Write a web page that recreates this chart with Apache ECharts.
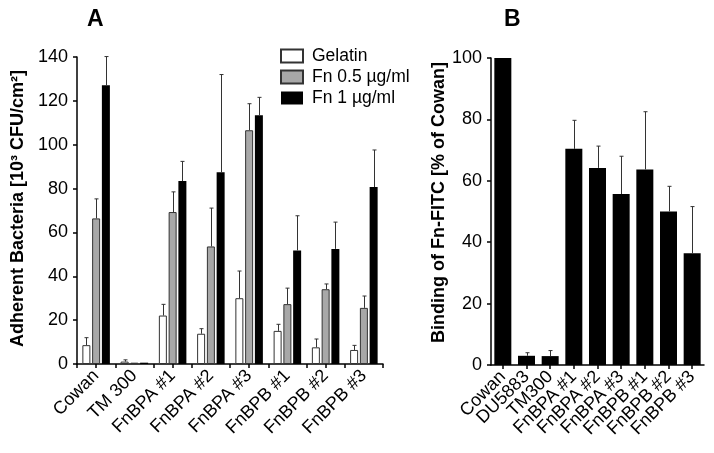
<!DOCTYPE html>
<html>
<head>
<meta charset="utf-8">
<script src="https://cdn.jsdelivr.net/npm/echarts@6/dist/echarts.min.js"></script>
<style>
  html, body { margin: 0; padding: 0; background: #fff; }
  #main { width: 714px; height: 453px; }
</style>
</head>
<body>
<div id="main"></div>
<script>
// panel A: adherent bacteria (10^3 CFU/cm2), upper error = SD
const catsA = ["Cowan", "TM 300", "FnBPA #1", "FnBPA #2", "FnBPA #3", "FnBPB #1", "FnBPB #2", "FnBPB #3"];
const gelatin = [8.6, 1.1, 22.1, 13.8, 30.0, 15.1, 7.6, 6.4];
const gelatinSd = [3.4, 0.8, 5.1, 2.3, 12.4, 3.0, 3.8, 2.1];
const fn05 = [66.4, 0.6, 69.3, 53.6, 106.6, 27.3, 34.1, 25.6];
const fn05Sd = [8.9, 0, 9.2, 17.5, 12.1, 7.3, 2.4, 5.4];
const fn1 = [127.1, 0.6, 83.4, 87.4, 113.4, 51.8, 52.5, 80.7];
const fn1Sd = [13.1, 0, 9.0, 44.6, 8.2, 15.8, 12.2, 16.9];

// panel B: binding of Fn-FITC (% of Cowan)
const catsB = ["Cowan", "DU5883", "TM300", "FnBPA #1", "FnBPA #2", "FnBPA #3", "FnBPB #1", "FnBPB #2", "FnBPB #3"];
const binding = [100, 3.0, 2.9, 70.4, 64.2, 55.7, 63.7, 50.0, 36.4];
const bindingSd = [0, 1.0, 1.8, 9.3, 7.1, 12.3, 18.8, 8.2, 15.2];

const FONT = "Liberation Sans, Arial, sans-serif";
const barW = 8;
const step = 9.8; // bar width + gap in panel A

// error bar (upper half only) drawn on top of a bar, shifted by dx
const errBar = (dx) => (params, api) => {
  const sd = api.value(2);
  if (!sd) return null;
  const i = api.value(0);
  const p0 = api.coord([i, api.value(1)]);
  const p1 = api.coord([i, api.value(1) + sd]);
  const x = Math.round(p0[0] + dx) + 0.5;
  const st = { stroke: "#333", lineWidth: 1 };
  return {
    type: "group",
    children: [
      { type: "line", shape: { x1: x, y1: p0[1], x2: x, y2: p1[1] }, style: st },
      { type: "line", shape: { x1: x - 2, y1: p1[1], x2: x + 2, y2: p1[1] }, style: st },
    ],
  };
};

const toErr = (vals, sds) => vals.map((v, i) => [i, v, sds[i]]);

const axisLine = { show: true, lineStyle: { color: "#000", width: 1.5 } };
const tick = { show: true, length: 4, lineStyle: { color: "#000", width: 1.5 } };
const xLabel = { interval: 0, rotate: 45, fontSize: 18, color: "#000", margin: 9, fontFamily: FONT };
const yLabel = { fontSize: 18, color: "#000", margin: 9, fontFamily: FONT };
const yName = { fontSize: 18, fontWeight: "bold", color: "#000", fontFamily: FONT };

const myChart = echarts.init(document.getElementById("main"));

const option = {
  animation: false,
  textStyle: { fontFamily: FONT, color: "#000" },
  title: [
    { text: "A", left: 82, top: 3, textStyle: { fontSize: 23, fontWeight: "bold", color: "#000", fontFamily: FONT } },
    { text: "B", left: 499, top: 3, textStyle: { fontSize: 23, fontWeight: "bold", color: "#000", fontFamily: FONT } },
  ],
  legend: {
    data: ["Gelatin", "Fn 0.5 µg/ml", "Fn 1 µg/ml"],
    orient: "vertical",
    left: 275,
    top: 42,
    itemWidth: 22,
    itemHeight: 13,
    itemGap: 3,
    icon: "rect",
    textStyle: { fontSize: 17.5, color: "#000", fontFamily: FONT, padding: [0, 0, 0, 4] },
  },
  grid: [
    { left: 77, top: 57, width: 306, height: 307 },
    { left: 491, top: 58, width: 213, height: 307 },
  ],
  xAxis: [
    {
      type: "category",
      gridIndex: 0,
      data: catsA,
      axisLine: axisLine,
      axisTick: Object.assign({ alignWithLabel: false }, tick),
      axisLabel: xLabel,
    },
    {
      type: "category",
      gridIndex: 0,
      position: "bottom",
      data: catsA,
      axisLine: { show: false },
      axisTick: Object.assign({ alignWithLabel: true }, tick),
      axisLabel: { show: false },
    },
    {
      type: "category",
      gridIndex: 1,
      data: catsB,
      axisLine: axisLine,
      axisTick: Object.assign({ alignWithLabel: true }, tick),
      axisLabel: xLabel,
    },
  ],
  yAxis: [
    {
      type: "value",
      gridIndex: 0,
      min: 0,
      max: 140,
      interval: 20,
      axisLine: axisLine,
      axisTick: tick,
      axisLabel: yLabel,
      splitLine: { show: false },
      name: "Adherent Bacteria [10³ CFU/cm²]",
      nameLocation: "middle",
      nameGap: 50,
      nameTextStyle: Object.assign({ padding: [0, 0, 0, 4] }, yName),
    },
    {
      type: "value",
      gridIndex: 1,
      min: 0,
      max: 100,
      interval: 20,
      axisLine: axisLine,
      axisTick: tick,
      axisLabel: yLabel,
      splitLine: { show: false },
      name: "Binding of Fn-FITC [% of Cowan]",
      nameLocation: "middle",
      nameGap: 42,
      nameTextStyle: Object.assign({ padding: [0, 0, 0, 18] }, yName),
    },
  ],
  series: [
    {
      name: "Gelatin",
      type: "bar",
      xAxisIndex: 0,
      yAxisIndex: 0,
      data: gelatin,
      barWidth: barW,
      barGap: "22%",
      itemStyle: { color: "#fff", borderColor: "#333", borderWidth: 1 },
    },
    {
      name: "Fn 0.5 µg/ml",
      type: "bar",
      xAxisIndex: 0,
      yAxisIndex: 0,
      data: fn05,
      barWidth: barW,
      barGap: "22%",
      itemStyle: { color: "#a8a8a8", borderColor: "#333", borderWidth: 1 },
    },
    {
      name: "Fn 1 µg/ml",
      type: "bar",
      xAxisIndex: 0,
      yAxisIndex: 0,
      data: fn1,
      barWidth: barW,
      barGap: "22%",
      itemStyle: { color: "#000" },
    },
    { name: "errGelatin", type: "custom", xAxisIndex: 0, yAxisIndex: 0, data: toErr(gelatin, gelatinSd), renderItem: errBar(-step), z: 3 },
    { name: "errFn05", type: "custom", xAxisIndex: 0, yAxisIndex: 0, data: toErr(fn05, fn05Sd), renderItem: errBar(0), z: 3 },
    { name: "errFn1", type: "custom", xAxisIndex: 0, yAxisIndex: 0, data: toErr(fn1, fn1Sd), renderItem: errBar(step), z: 3 },
    {
      name: "Binding",
      type: "bar",
      xAxisIndex: 2,
      yAxisIndex: 1,
      data: binding,
      barWidth: 17,
      itemStyle: { color: "#000" },
    },
    { name: "errBinding", type: "custom", xAxisIndex: 2, yAxisIndex: 1, data: toErr(binding, bindingSd), renderItem: errBar(0), z: 3 },
  ],
};

myChart.setOption(option);
</script>
</body>
</html>
